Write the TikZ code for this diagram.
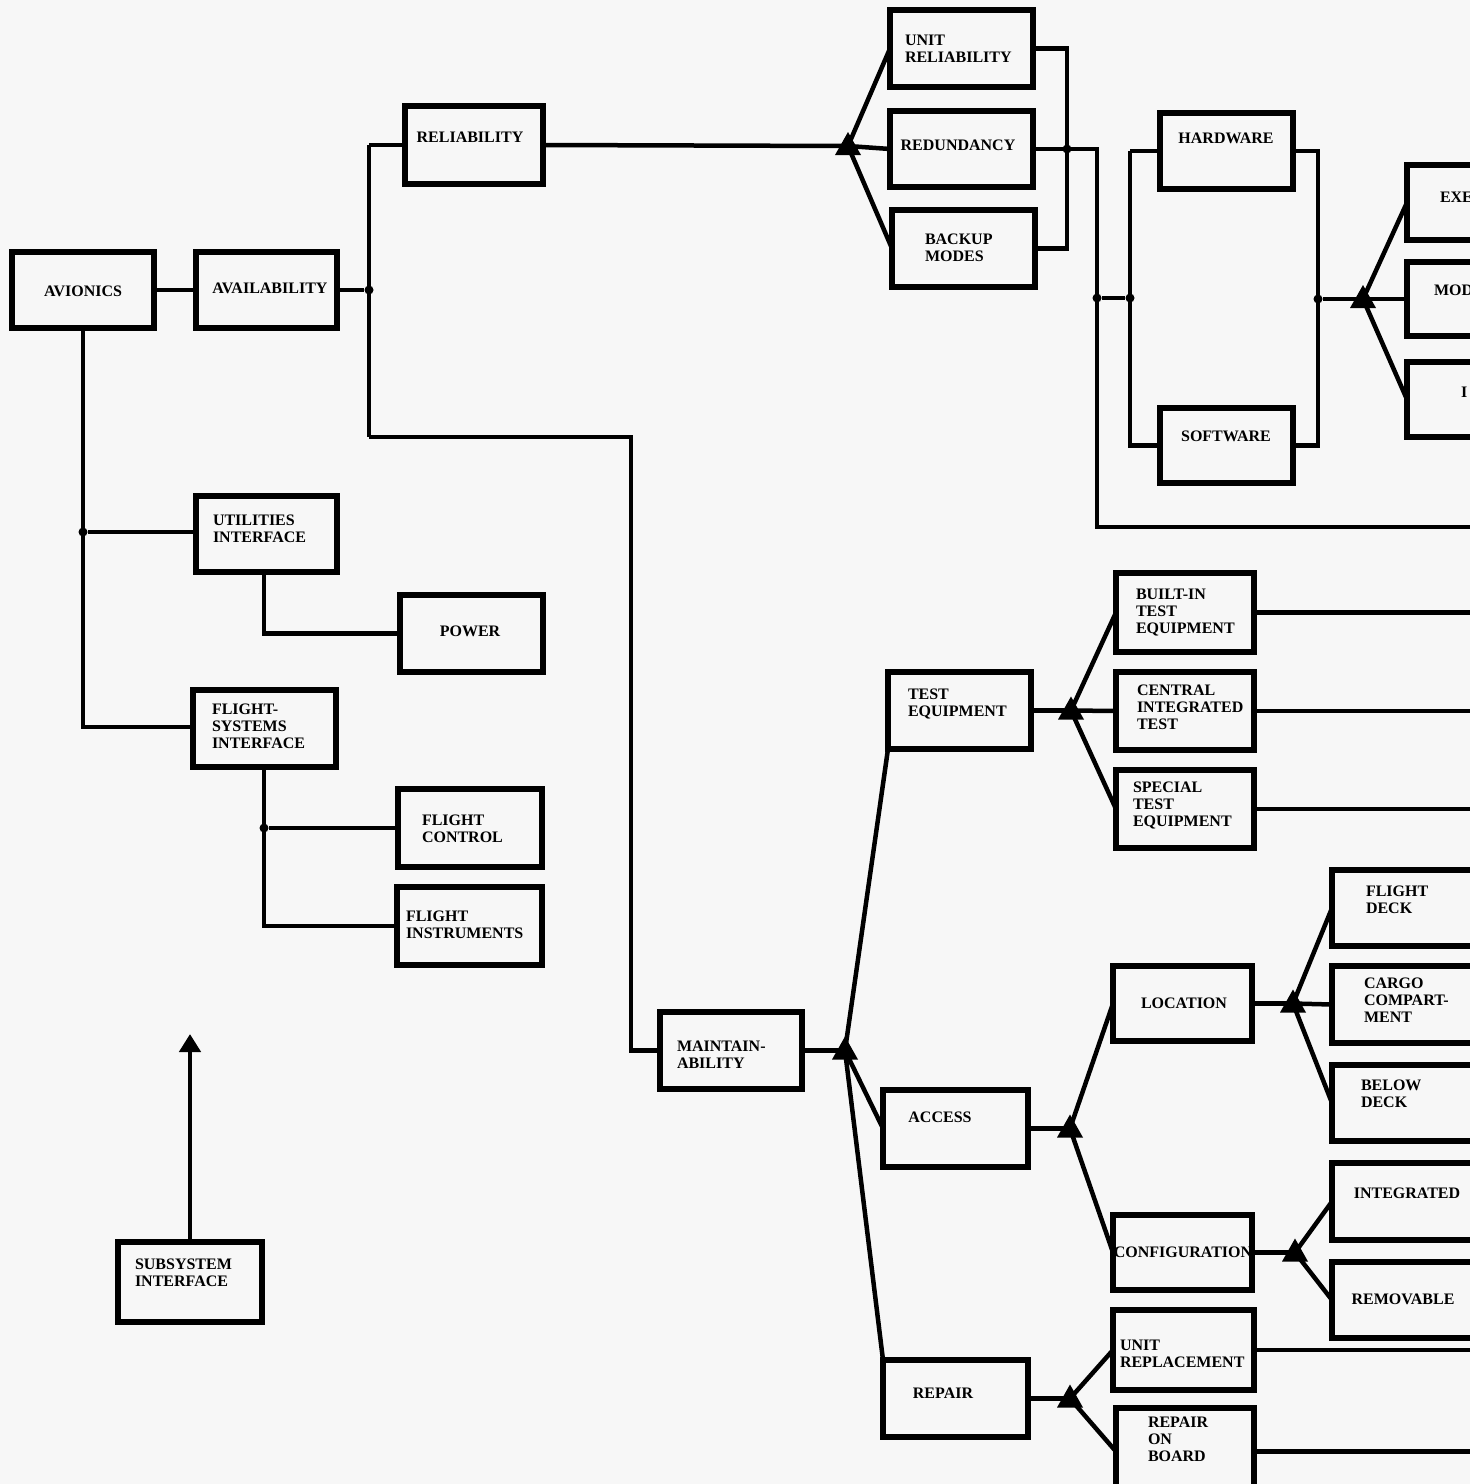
\documentclass[tikz,border=0pt]{standalone}
\usepackage{fontspec}
\setmainfont{Liberation Serif}
\usetikzlibrary{arrows.meta,calc}
\definecolor{paper}{RGB}{247,247,247}
\tikzset{
  box/.style={draw, line width=5.5pt, rectangle, inner sep=0pt, outer sep=0pt},
  lbl/.style={inner sep=0pt, outer sep=0pt, font=\fontsize{16}{17}\selectfont\bfseries, align=left},
  conn/.style={line width=4.5pt, line join=miter},
  jdot/.style={circle, fill, inner sep=0pt, minimum size=9pt},
}
\newcommand{\bx}[5]{\node[box, minimum width={(#4-#2)*1pt}, minimum height={(#5-#3)*1pt}] (#1) at ({(#2+#4)/2},{(#3+#5)/2}) {};}
\newcommand{\forktri}[1]{\fill ($(#1)+(0,-14)$) -- ++(13,23) -- ++(-26,0) -- cycle;}
\begin{document}
\begin{tikzpicture}[x=1pt,y=-1pt]
\useasboundingbox (0,0) rectangle (1470,1484);
\clip (0,0) rectangle (1470,1484);
\fill[paper] (0,0) rectangle (1470,1484);

% boxes
\bx{avionics}{12}{252}{154}{328}
\bx{avail}{196}{252}{337}{328}
\bx{reliab}{405}{106}{543}{184}
\bx{unitrel}{890}{10}{1033}{87}
\bx{redund}{890}{111}{1033}{187}
\bx{backup}{892}{210}{1035}{287}
\bx{hardware}{1160}{113}{1293}{189}
\bx{software}{1160}{408}{1293}{483}
\bx{exe}{1407}{165}{1490}{240}
\bx{mod}{1407}{262}{1490}{336}
\bx{third}{1407}{362}{1490}{437}
\bx{util}{196}{496}{337}{572}
\bx{power}{400}{595}{543}{672}
\bx{flsys}{193}{690}{336}{767}
\bx{flctrl}{398}{789}{542}{867}
\bx{flinst}{397}{887}{542}{965}
\bx{subsys}{118}{1242}{262}{1322}
\bx{maint}{660}{1012}{802}{1089}
\bx{testeq}{888}{672}{1031}{749}
\bx{builtin}{1116}{573}{1254}{652}
\bx{central}{1116}{672}{1254}{750}
\bx{special}{1116}{770}{1254}{848}
\bx{access}{883}{1090}{1028}{1167}
\bx{repair}{883}{1360}{1028}{1437}
\bx{location}{1113}{966}{1252}{1041}
\bx{config}{1113}{1215}{1252}{1290}
\bx{fdeck}{1332}{870}{1490}{946}
\bx{cargo}{1332}{966}{1490}{1043}
\bx{below}{1332}{1065}{1490}{1141}
\bx{integ}{1332}{1163}{1490}{1240}
\bx{remov}{1332}{1262}{1490}{1338}
\bx{unitrepl}{1113}{1310}{1254}{1390}
\bx{onboard}{1116}{1408}{1254}{1495}

% labels
\node[lbl] (tav) at (83,291) {AVIONICS};
\node[lbl] (tavail) at (270,288) {AVAILABILITY};
\node[lbl] (trel) at (470,137) {RELIABILITY};
\node[lbl, anchor=north west] (tunitrel) at (905,35) {UNIT\\RELIABILITY};
\node[lbl] (tred) at (958,145) {REDUNDANCY};
\node[lbl, anchor=north west] (tback) at (925,234) {BACKUP\\MODES};
\node[lbl] (thw) at (1226,138) {HARDWARE};
\node[lbl] (tsw) at (1226,436) {SOFTWARE};
\node[lbl, anchor=west] (texe) at (1440,197) {EXE};
\node[lbl, anchor=west] (tmod) at (1434,290) {MOD};
\node[lbl, anchor=west] (tthird) at (1461,392) {I};
\node[lbl, anchor=north west] (tutil) at (213,515) {UTILITIES\\INTERFACE};
\node[lbl] (tpow) at (470,631) {POWER};
\node[lbl, anchor=north west] (tflsys) at (212,704) {FLIGHT-\\SYSTEMS\\INTERFACE};
\node[lbl, anchor=north west] (tflctrl) at (422,815) {FLIGHT\\CONTROL};
\node[lbl, anchor=north west] (tflinst) at (406,911) {FLIGHT\\INSTRUMENTS};
\node[lbl, anchor=north west] (tsub) at (135,1259) {SUBSYSTEM\\INTERFACE};
\node[lbl, anchor=north west] (tmaint) at (677,1041) {MAINTAIN-\\ABILITY};
\node[lbl, anchor=north west] (ttest) at (908,689) {TEST\\EQUIPMENT};
\node[lbl, anchor=north west] (tbuilt) at (1136,589) {BUILT-IN\\TEST\\EQUIPMENT};
\node[lbl, anchor=north west] (tcent) at (1137,685) {CENTRAL\\INTEGRATED\\TEST};
\node[lbl, anchor=north west] (tspec) at (1133,782) {SPECIAL\\TEST\\EQUIPMENT};
\node[lbl] (tacc) at (940,1117) {ACCESS};
\node[lbl] (tloc) at (1184,1003) {LOCATION};
\node[lbl] (tconf) at (1183,1252) {CONFIGURATION};
\node[lbl, anchor=north west] (tfdeck) at (1366,886) {FLIGHT\\DECK};
\node[lbl, anchor=north west] (tcargo) at (1364,978) {CARGO\\COMPART-\\MENT};
\node[lbl, anchor=north west] (tbelow) at (1361,1080) {BELOW\\DECK};
\node[lbl] (tinteg) at (1407,1193) {INTEGRATED};
\node[lbl] (tremov) at (1403,1299) {REMOVABLE};
\node[lbl, anchor=north west] (tunitrepl) at (1120,1340) {UNIT\\REPLACEMENT};
\node[lbl, anchor=north west] (tonboard) at (1148,1417) {REPAIR\\ON\\BOARD};
\node[lbl] (trepair) at (943,1393) {REPAIR};

% junctions and forks
\node[jdot] (j1) at (369,290) {};
\node[jdot] (j2) at (83,532) {};
\node[jdot] (j3) at (264,828) {};
\node[jdot] (j4) at (1097,298) {};
\node[jdot] (j5) at (1130,298) {};
\node[jdot] (j6) at (1318,299) {};
\node[jdot] (j7) at (1067,149) {};
\coordinate (f1) at (848,146);
\coordinate (f2) at (1363,299);
\coordinate (f3) at (845,1050.5);
\coordinate (f4) at (1071,710.5);
\coordinate (f5) at (1070,1128.5);
\coordinate (f6) at (1293,1003.5);
\coordinate (f7) at (1295,1252.5);
\coordinate (f8) at (1070,1398.5);
\coordinate (c1) at (369,145);
\coordinate (c2) at (369,437);
\coordinate (c3) at (631,437);
\coordinate (c4) at (1067,48);
\coordinate (c5) at (1097,527);
\coordinate (c6) at (1480,527);
\coordinate (c7) at (1130,151);
\coordinate (c8) at (1318,151);
\coordinate (c9) at (83,727);
\coordinate (c10) at (264,926);
\coordinate (arrtip) at (190,1034);
\coordinate (e1) at (1480,612.5);
\coordinate (e2) at (1480,711);
\coordinate (e3) at (1480,809);
\coordinate (e4) at (1480,1350);
\coordinate (e5) at (1480,1451.5);

% connectors - left part
\draw[conn] (avionics.east) -- (avail.west);
\draw[conn] (avail.east) -- (j1);
\draw[conn] (c1) -- (c2);
\draw[conn] (c1) -- (reliab.west);
\draw[conn] (c2) -- (c3) |- (maint.west);
\draw[conn] (avionics.south) -- (c9) -- (c9 -| flsys.west);
\draw[conn] (j2) -- (j2 -| util.west);
\draw[conn] (util.south -| j3) |- (power.west);
\draw[conn] (flsys.south -| j3) -- (c10) -- (c10 -| flinst.west);
\draw[conn] (j3) -- (j3 -| flctrl.west);
\draw[conn, -{Triangle[width=21pt,length=18pt]}] (subsys.north -| arrtip) -- (arrtip);

% reliability branch
\draw[conn] (reliab.east) -- (f1);
\draw[conn] (f1) -- (unitrel.west);
\draw[conn] (f1) -- (redund.west);
\draw[conn] (f1) -- (backup.west);
\draw[conn] (unitrel.east) -- (unitrel.east -| c4) -- (backup.east -| c4) -- (backup.east);
\draw[conn] (redund.east) -- (redund.east -| c5) -- (c5) -- (c6);
\draw[conn] (j4) -- (j5);
\draw[conn] (c7) -- (c7 |- software.west) -- (software.west);
\draw[conn] (c7) -- (hardware.west);
\draw[conn] (hardware.east) -- (c8) -- (c8 |- software.east) -- (software.east);
\draw[conn] (j6) -- (f2);
\draw[conn] (f2) -- (exe.west);
\draw[conn] (f2) -- (mod.west);
\draw[conn] (f2) -- (third.west);

% maintainability branch
\draw[conn] (maint.east) -- (f3);
\draw[conn] (f3) -- (testeq.south west);
\draw[conn] (f3) -- (access.west);
\draw[conn] (f3) -- (repair.north west);
\draw[conn] (testeq.east) -- (f4);
\draw[conn] (f4) -- (builtin.west);
\draw[conn] (f4) -- (central.west);
\draw[conn] (f4) -- (special.west);
\draw[conn] (builtin.east) -- (e1);
\draw[conn] (central.east) -- (e2);
\draw[conn] (special.east) -- (e3);
\draw[conn] (access.east) -- (f5);
\draw[conn] (f5) -- (location.west);
\draw[conn] (f5) -- (config.west);
\draw[conn] (location.east) -- (f6);
\draw[conn] (f6) -- (fdeck.west);
\draw[conn] (f6) -- (cargo.west);
\draw[conn] (f6) -- (below.west);
\draw[conn] (config.east) -- (f7);
\draw[conn] (f7) -- (integ.west);
\draw[conn] (f7) -- (remov.west);
\draw[conn] (repair.east) -- (f8);
\draw[conn] (f8) -- (unitrepl.west);
\draw[conn] (f8) -- (onboard.west);
\draw[conn] (unitrepl.east) -- (e4);
\draw[conn] (onboard.east) -- (e5);

% fork triangles
\forktri{f1}
\forktri{f2}
\forktri{f3}
\forktri{f4}
\forktri{f5}
\forktri{f6}
\forktri{f7}
\forktri{f8}
\end{tikzpicture}
\end{document}
